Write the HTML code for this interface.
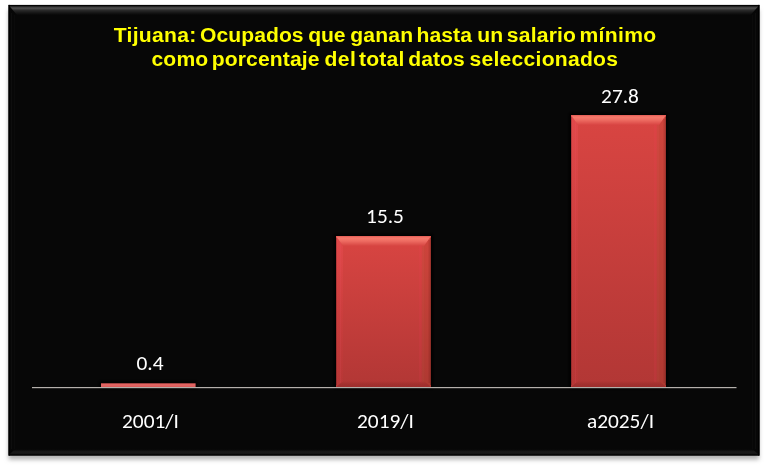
<!DOCTYPE html>
<html><head><meta charset="utf-8">
<style>
html,body{margin:0;padding:0;background:#fff;width:768px;height:468px;overflow:hidden}
#c{position:absolute;left:0;top:0;will-change:transform}
.t{font-family:"Liberation Sans",Arial,sans-serif;font-weight:bold;fill:#ffff00;font-size:21.1px}
.v{font-family:Carlito,"Liberation Sans",sans-serif;fill:#ffffff;font-size:21.33px}
.nc .v{font-family:"Liberation Sans",sans-serif;font-size:19px}
</style></head><body>
<svg id="c" width="768" height="468" viewBox="0 0 768 468">
<defs>
<filter id="sh" x="-5%" y="-5%" width="110%" height="115%"><feGaussianBlur stdDeviation="2.2"/></filter>
<filter id="bh" x="-20%" y="-20%" width="140%" height="140%"><feGaussianBlur stdDeviation="1.5"/></filter>
<linearGradient id="topb" x1="0" y1="5" x2="0" y2="15" gradientUnits="userSpaceOnUse">
<stop offset="0" stop-color="#000"/><stop offset="0.08" stop-color="#080808"/><stop offset="0.2" stop-color="#3a3a3a"/><stop offset="0.32" stop-color="#505050"/><stop offset="0.42" stop-color="#3e3e3e"/><stop offset="0.55" stop-color="#282828"/><stop offset="0.75" stop-color="#181818"/><stop offset="1" stop-color="#070707"/>
</linearGradient>
<linearGradient id="botb" x1="0" y1="449" x2="0" y2="455.5" gradientUnits="userSpaceOnUse">
<stop offset="0" stop-color="#050505"/><stop offset="0.45" stop-color="#1a1a1a"/><stop offset="0.75" stop-color="#141414"/><stop offset="0.9" stop-color="#000"/><stop offset="1" stop-color="#000"/>
</linearGradient>
<linearGradient id="bb" x1="0" y1="0" x2="0" y2="1"><stop offset="0" stop-color="#300000" stop-opacity="0"/><stop offset="0.5" stop-color="#300000" stop-opacity="0.12"/><stop offset="1" stop-color="#300000" stop-opacity="0.16"/></linearGradient>
<linearGradient id="lb" x1="0" y1="0" x2="0" y2="1"><stop offset="0" stop-color="#ff5a6a" stop-opacity="0.22"/><stop offset="0.5" stop-color="#ff4050" stop-opacity="0.10"/><stop offset="1" stop-color="#ff3040" stop-opacity="0.06"/></linearGradient>
<linearGradient id="b1" x1="0" y1="383" x2="0" y2="387" gradientUnits="userSpaceOnUse">
<stop offset="0" stop-color="#e25c5a"/><stop offset="0.5" stop-color="#e46664"/><stop offset="1" stop-color="#d65a58"/>
</linearGradient>
<linearGradient id="bar1" x1="0" y1="236" x2="0" y2="387" gradientUnits="userSpaceOnUse"><stop offset="0" stop-color="#d94542"/><stop offset="1" stop-color="#b23735"/></linearGradient><linearGradient id="bt1" x1="0" y1="236" x2="0" y2="246" gradientUnits="userSpaceOnUse"><stop offset="0" stop-color="#e25a54"/><stop offset="0.2" stop-color="#f67a6c"/><stop offset="0.5" stop-color="#ee6c62"/><stop offset="1" stop-color="#d64441"/></linearGradient><linearGradient id="bar2" x1="0" y1="115" x2="0" y2="387" gradientUnits="userSpaceOnUse"><stop offset="0" stop-color="#d94542"/><stop offset="1" stop-color="#b23735"/></linearGradient><linearGradient id="bt2" x1="0" y1="115" x2="0" y2="125" gradientUnits="userSpaceOnUse"><stop offset="0" stop-color="#e25a54"/><stop offset="0.2" stop-color="#f67a6c"/><stop offset="0.5" stop-color="#ee6c62"/><stop offset="1" stop-color="#d84442"/></linearGradient>
</defs>
<!-- shadow -->
<rect x="8.5" y="10" width="750.5" height="449.6" fill="#b4b4b4" filter="url(#sh)"/>
<!-- chart area -->
<rect x="8.5" y="4.9" width="751" height="450.6" fill="#070707"/>
<polygon points="8.5,4.9 759.5,4.9 750.5,15 17,15" fill="url(#topb)"/>
<polygon points="8.5,455.5 759.5,455.5 752.5,449 15,449" fill="url(#botb)"/>
<rect x="8.5" y="4.9" width="1.5" height="450.6" fill="#000"/>
<rect x="758" y="4.9" width="1.5" height="450.6" fill="#000"/>
<rect x="11" y="13" width="1" height="436" fill="#0e0e0e"/>
<rect x="14" y="15" width="1" height="434" fill="#0b0b0b"/>
<rect x="755" y="13" width="1" height="436" fill="#0e0e0e"/>
<rect x="752" y="15" width="1" height="434" fill="#0b0b0b"/>
<!-- title -->
<text class="t" y="41.6"><tspan x="113.8" style="letter-spacing:0.277px">Tijuana: </tspan><tspan x="199.97" style="letter-spacing:0.066px">Ocupados </tspan><tspan x="308.16" style="letter-spacing:-0.047px">que </tspan><tspan x="350.16" style="letter-spacing:0.197px">ganan </tspan><tspan x="416.59" style="letter-spacing:0.052px">hasta </tspan><tspan x="477.23" style="letter-spacing:0.135px">un </tspan><tspan x="506.83" style="letter-spacing:0.193px">salario </tspan><tspan x="579.44" style="letter-spacing:0.349px">mínimo </tspan></text>
<text class="t" y="65.6"><tspan x="151.38" style="letter-spacing:0.195px">como </tspan><tspan x="211.83" style="letter-spacing:0.1px">porcentaje </tspan><tspan x="324.46" style="letter-spacing:0.432px">del </tspan><tspan x="358.89" style="letter-spacing:0.266px">total </tspan><tspan x="408.36" style="letter-spacing:0.02px">datos </tspan><tspan x="469.43" style="letter-spacing:0.264px">seleccionados </tspan></text>
<!-- bars -->
<rect x="99" y="381.3" width="98.6" height="7.7" fill="#000" filter="url(#bh)"/>
<rect x="101" y="383.3" width="94.6" height="3.7" fill="url(#b1)"/><rect x="334" y="234" width="99" height="155" fill="#000" filter="url(#bh)"/>
<rect x="336" y="236" width="95" height="151" fill="url(#bar1)"/>
<polygon points="336,236 343,246 343,382 336,387" fill="url(#lb)"/>
<rect x="336" y="238" width="1" height="147" fill="#000" fill-opacity="0.18"/>
<rect x="340" y="242" width="1" height="141" fill="#ff6080" fill-opacity="0.10"/>
<polygon points="431,236 424,246 424,382 431,387" fill="#a04020" fill-opacity="0.18"/>
<rect x="419" y="246" width="2.5" height="136" fill="#ff3a60" fill-opacity="0.10"/>
<rect x="422" y="246" width="2.5" height="136" fill="#a06030" fill-opacity="0.12"/>
<rect x="428.5" y="240" width="1.5" height="143" fill="#300000" fill-opacity="0.12"/>
<rect x="430" y="238" width="1" height="147" fill="#000" fill-opacity="0.22"/>
<polygon points="336,387 431,387 424,381 343,381" fill="url(#bb)"/>
<polygon points="336,236 431,236 424,246 343,246" fill="url(#bt1)"/><rect x="569" y="113" width="99" height="276" fill="#000" filter="url(#bh)"/>
<rect x="571" y="115" width="95" height="272" fill="url(#bar2)"/>
<polygon points="571,115 578,125 578,382 571,387" fill="url(#lb)"/>
<rect x="571" y="117" width="1" height="268" fill="#000" fill-opacity="0.18"/>
<rect x="575" y="121" width="1" height="262" fill="#ff6080" fill-opacity="0.10"/>
<polygon points="666,115 659,125 659,382 666,387" fill="#a04020" fill-opacity="0.18"/>
<rect x="654" y="125" width="2.5" height="257" fill="#ff3a60" fill-opacity="0.10"/>
<rect x="657" y="125" width="2.5" height="257" fill="#a06030" fill-opacity="0.12"/>
<rect x="663.5" y="119" width="1.5" height="264" fill="#300000" fill-opacity="0.12"/>
<rect x="665" y="117" width="1" height="268" fill="#000" fill-opacity="0.22"/>
<polygon points="571,387 666,387 659,381 578,381" fill="url(#bb)"/>
<polygon points="571,115 666,115 659,125 578,125" fill="url(#bt2)"/>
<!-- axis -->
<rect x="32" y="387" width="704.5" height="1.2" fill="#b4b0ac"/>
<!-- values -->
<text class="v" x="150" y="370" text-anchor="middle">0.4</text>
<text class="v" x="385" y="223" text-anchor="middle">15.5</text>
<text class="v" x="620" y="103" text-anchor="middle">27.8</text>
<!-- categories -->
<text class="v" x="150.5" y="428" text-anchor="middle">2001/I</text>
<text class="v" x="385.5" y="428" text-anchor="middle">2019/I</text>
<text class="v" x="620.5" y="428" text-anchor="middle">a2025/I</text>
</svg>
<script>
(function(){try{var c=document.createElement('canvas').getContext('2d');
c.font='40px monospace';var a=c.measureText('2001/I a2025 0.4').width;
c.font='40px Carlito, monospace';var b=c.measureText('2001/I a2025 0.4').width;
if(Math.abs(a-b)<0.5)document.documentElement.className+=' nc';}catch(e){}})();
</script>
</body></html>
